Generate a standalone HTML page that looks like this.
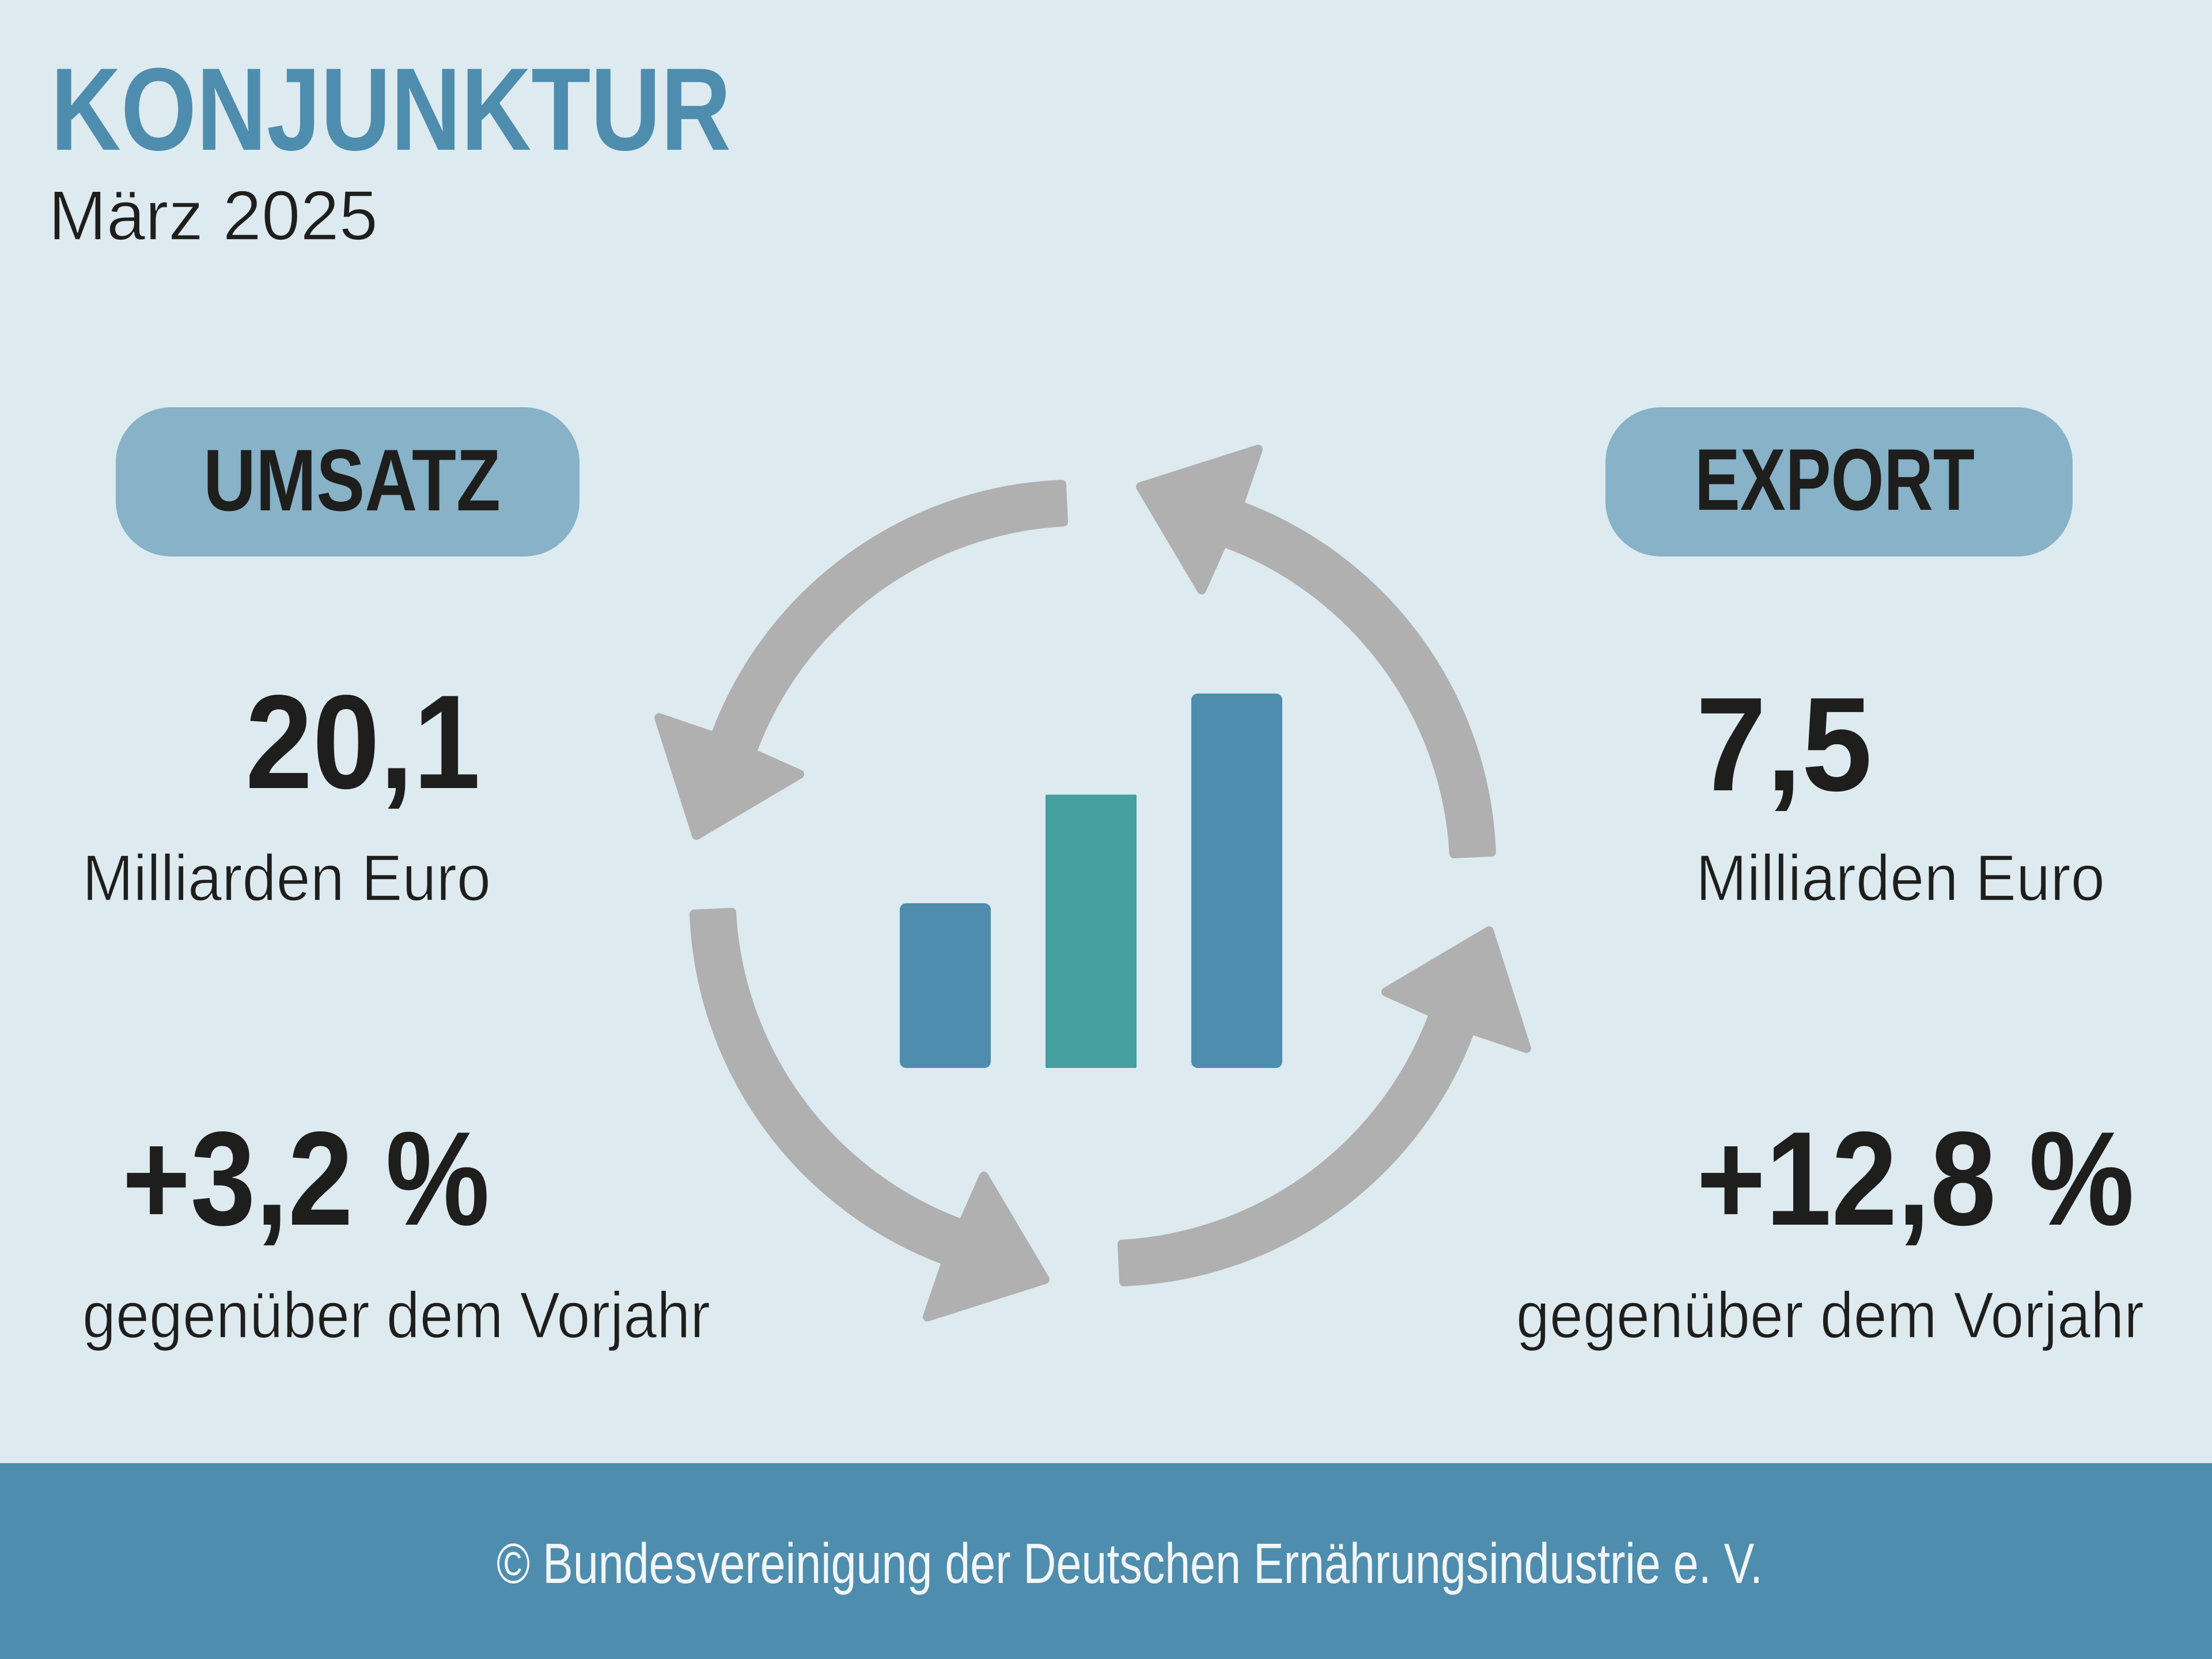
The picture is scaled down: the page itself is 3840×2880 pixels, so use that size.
<!DOCTYPE html>
<html lang="de">
<head>
<meta charset="utf-8">
<title>Konjunktur März 2025</title>
<style>
html,body{margin:0;padding:0;background:#ddeaef;}
svg{display:block;}
text{font-family:"Liberation Sans",sans-serif;}
.dark{fill:#1e1e1c;}
.b{font-weight:700;}
.thin{stroke:#ddeaef;stroke-width:1.6;}
</style>
</head>
<body>
<svg xmlns="http://www.w3.org/2000/svg" width="3840" height="2880" viewBox="0 0 3840 2880">
  <rect x="0" y="0" width="3840" height="2880" fill="#ddeaef"/>

  <text x="88" y="260" font-size="204" class="b" fill="#4e8dae" textLength="1181" lengthAdjust="spacingAndGlyphs">KONJUNKTUR</text>
  <text x="84" y="416" font-size="122" class="dark thin" textLength="572" lengthAdjust="spacingAndGlyphs">März 2025</text>

  <rect x="201" y="707" width="805" height="259" rx="96" ry="96" fill="#87b2c8"/>
  <text x="353" y="886" font-size="152" class="b dark" textLength="516" lengthAdjust="spacingAndGlyphs">UMSATZ</text>
  <rect x="2787" y="707" width="811" height="259" rx="96" ry="96" fill="#87b2c8"/>
  <text x="2942" y="885" font-size="152" class="b dark" textLength="486" lengthAdjust="spacingAndGlyphs">EXPORT</text>

  <text x="426" y="1368" font-size="232" class="b dark" textLength="408" lengthAdjust="spacingAndGlyphs">20,1</text>
  <text x="143" y="1563" font-size="113" class="dark thin" textLength="709" lengthAdjust="spacingAndGlyphs">Milliarden Euro</text>
  <text x="212" y="2126" font-size="232" class="b dark" textLength="638" lengthAdjust="spacingAndGlyphs">+3,2 %</text>
  <text x="143" y="2322" font-size="113" class="dark thin" textLength="1090" lengthAdjust="spacingAndGlyphs">gegenüber dem Vorjahr</text>

  <text x="2944" y="1372" font-size="232" class="b dark" textLength="306" lengthAdjust="spacingAndGlyphs">7,5</text>
  <text x="2944" y="1563" font-size="113" class="dark thin" textLength="710" lengthAdjust="spacingAndGlyphs">Milliarden Euro</text>
  <text x="2945" y="2126" font-size="232" class="b dark" textLength="760" lengthAdjust="spacingAndGlyphs">+12,8 %</text>
  <text x="2632" y="2322" font-size="113" class="dark thin" textLength="1090" lengthAdjust="spacingAndGlyphs">gegenüber dem Vorjahr</text>

  <g fill="#b0b0b0" stroke="#b0b0b0" stroke-width="16" stroke-linejoin="round">
    <path transform="rotate(0 1897 1533)" d="M1843 841 A670 670 0 0 0 1241 1279 L1144 1246 L1209 1450 L1388 1344 L1305 1307 A613 613 0 0 1 1846 906 Z"/>
    <path transform="rotate(90 1897 1533)" d="M1843 841 A670 670 0 0 0 1241 1279 L1144 1246 L1209 1450 L1388 1344 L1305 1307 A613 613 0 0 1 1846 906 Z"/>
    <path transform="rotate(180 1897 1533)" d="M1843 841 A670 670 0 0 0 1241 1279 L1144 1246 L1209 1450 L1388 1344 L1305 1307 A613 613 0 0 1 1846 906 Z"/>
    <path transform="rotate(270 1897 1533)" d="M1843 841 A670 670 0 0 0 1241 1279 L1144 1246 L1209 1450 L1388 1344 L1305 1307 A613 613 0 0 1 1846 906 Z"/>
  </g>

  <g id="bars"></g>

  <rect x="0" y="2540" width="3840" height="340" fill="#4e8dae"/>
  <text x="862" y="2748" font-size="98" fill="#f2f6f8" textLength="2198" lengthAdjust="spacingAndGlyphs">© Bundesvereinigung der Deutschen Ernährungsindustrie e. V.</text>
</svg>
<script>
var barCategories = ['low', 'mid', 'high'];
var barValues = [44, 73, 100];

function xScale(i) { return 1562 + i * 253; }
function yScale(v) { return 1854 - v * 6.5; }

var barsGroup = document.getElementById('bars');
barValues.forEach(function (v, i) {
  var el = document.createElementNS('http://www.w3.org/2000/svg', 'rect');
  el.setAttribute('x', xScale(i));
  el.setAttribute('y', yScale(v));
  el.setAttribute('width', 158);
  el.setAttribute('height', yScale(0) - yScale(v));
  el.setAttribute('rx', i === 1 ? 2 : 11);
  el.setAttribute('fill', i === 1 ? '#459f9f' : '#4e8dae');
  
  
  barsGroup.appendChild(el);
});
</script>
</body>
</html>
